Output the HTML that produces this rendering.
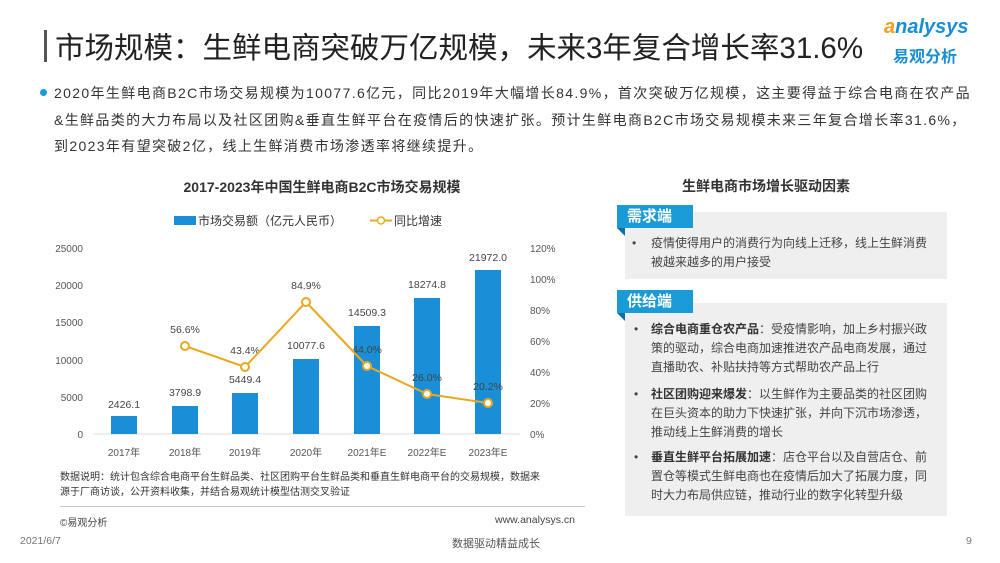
<!DOCTYPE html>
<html><head><meta charset="utf-8"><style>
*{margin:0;padding:0;box-sizing:border-box}
body{width:1000px;height:563px;background:#fff;font-family:"Liberation Sans","Noto Sans CJK SC",sans-serif;position:relative;overflow:hidden;color:#333}
.a{position:absolute;white-space:nowrap}
.box{position:absolute;background:#efefef}
.tab{position:absolute;background:#1a9ad6;color:#fff;font-weight:bold;font-size:15px;padding-left:10px;line-height:23px}
.tri{position:absolute;width:0;height:0;border-top:8px solid #0e6fa3;border-left:8px solid transparent}
.t{position:absolute;font-size:12px;line-height:19px;color:#444}
</style></head><body>
<div class="a" style="left:44px;top:30px;width:3px;height:32px;background:#555"></div>
<div class="a" style="left:55px;top:25px;font-size:29.5px;color:#222">市场规模：生鲜电商突破万亿规模，未来3年复合增长率31.6%</div>
<div class="a" style="left:884px;top:16px;font-size:20px;font-style:italic;color:#1a8fd0;font-weight:bold"><span style="color:#f0a020">a</span>nalysys</div>
<div class="a" style="left:893px;top:43px;font-size:16px;color:#1a8fd0;font-weight:bold">易观分析</div>
<div class="a" style="left:40px;top:89px;width:7px;height:7px;border-radius:50%;background:#1a9ad6"></div>
<div class="a" style="left:54px;top:80px;font-size:14px;line-height:26.5px;color:#333;letter-spacing:1.35px">2020年生鲜电商B2C市场交易规模为10077.6亿元，同比2019年大幅增长84.9%，首次突破万亿规模，这主要得益于综合电商在农产品<br>&amp;生鲜品类的大力布局以及社区团购&amp;垂直生鲜平台在疫情后的快速扩张。预计生鲜电商B2C市场交易规模未来三年复合增长率31.6%，<br>到2023年有望突破2亿，线上生鲜消费市场渗透率将继续提升。</div>

<svg class="a" style="left:0;top:0" width="600" height="470" font-family="Liberation Sans, Noto Sans CJK SC, sans-serif">
<text x="322" y="192" text-anchor="middle" font-size="14" font-weight="bold" fill="#333">2017-2023年中国生鲜电商B2C市场交易规模</text>
<rect x="174" y="216" width="22" height="9" fill="#1a8fd8"/>
<text x="198" y="225" font-size="12" fill="#333">市场交易额（亿元人民币）</text>
<line x1="370" y1="220.5" x2="392" y2="220.5" stroke="#e8a820" stroke-width="2"/>
<circle cx="381" cy="220.5" r="3.5" fill="#fff" stroke="#e8a820" stroke-width="1.5"/>
<text x="394" y="225" font-size="12" fill="#333">同比增速</text>
<g font-size="10" fill="#555" text-anchor="end">
<text x="83" y="252">25000</text><text x="83" y="289">20000</text><text x="83" y="326">15000</text><text x="83" y="364">10000</text><text x="83" y="401">5000</text><text x="83" y="438">0</text>
</g>
<g font-size="10" fill="#555">
<text x="530" y="252">120%</text><text x="530" y="283">100%</text><text x="530" y="314">80%</text><text x="530" y="345">60%</text><text x="530" y="376">40%</text><text x="530" y="407">20%</text><text x="530" y="438">0%</text>
</g>
<line x1="93" y1="434" x2="520" y2="434" stroke="#ddd"/>
<g fill="#1a8fd8">
<rect x="111" y="416" width="26" height="18"/>
<rect x="172" y="406" width="26" height="28"/>
<rect x="232" y="393" width="26" height="41"/>
<rect x="293" y="359" width="26" height="75"/>
<rect x="354" y="326" width="26" height="108"/>
<rect x="414" y="298" width="26" height="136"/>
<rect x="475" y="270" width="26" height="164"/>
</g>
<g font-size="10.5" fill="#444" text-anchor="middle">
<text x="124" y="408">2426.1</text><text x="185" y="396">3798.9</text><text x="245" y="383">5449.4</text><text x="306" y="349">10077.6</text><text x="367" y="316">14509.3</text><text x="427" y="288">18274.8</text><text x="488" y="261">21972.0</text>
<text x="185" y="333">56.6%</text><text x="245" y="354">43.4%</text><text x="306" y="289">84.9%</text><text x="367" y="353">44.0%</text><text x="427" y="381">26.0%</text><text x="488" y="390">20.2%</text>
</g>
<polyline points="185,346 245,367 306,302 367,366 427,394 488,403" fill="none" stroke="#e8a820" stroke-width="2"/>
<g fill="#fff" stroke="#e8a820" stroke-width="2">
<circle cx="185" cy="346" r="4"/><circle cx="245" cy="367" r="4"/><circle cx="306" cy="302" r="4"/><circle cx="367" cy="366" r="4"/><circle cx="427" cy="394" r="4"/><circle cx="488" cy="403" r="4"/>
</g>
<g font-size="10" fill="#555" text-anchor="middle">
<text x="124" y="456">2017年</text><text x="185" y="456">2018年</text><text x="245" y="456">2019年</text><text x="306" y="456">2020年</text><text x="367" y="456">2021年E</text><text x="427" y="456">2022年E</text><text x="488" y="456">2023年E</text>
</g>
</svg>
<div class="a" style="left:60px;top:470px;font-size:10px;line-height:15px;color:#333">数据说明：统计包含综合电商平台生鲜品类、社区团购平台生鲜品类和垂直生鲜电商平台的交易规模，数据来<br>源于厂商访谈，公开资料收集，并结合易观统计模型估测交叉验证</div>
<div class="a" style="left:60px;top:506px;width:525px;height:1px;background:#ccc"></div>
<div class="a" style="left:60px;top:514px;font-size:10px;color:#444">©易观分析</div>
<div class="a" style="left:495px;top:514px;font-size:10.5px;color:#444">www.analysys.cn</div>
<div class="a" style="left:20px;top:535px;font-size:10.5px;color:#777">2021/6/7</div>
<div class="a" style="left:452px;top:535px;font-size:11px;color:#555">数据驱动精益成长</div>
<div class="a" style="left:966px;top:535px;font-size:10.5px;color:#777">9</div>

<div class="a" style="left:682px;top:176px;font-size:14px;font-weight:bold;color:#333">生鲜电商市场增长驱动因素</div>
<div class="box" style="left:625px;top:212px;width:322px;height:67px"></div>
<div class="tab" style="left:617px;top:205px;width:76px">需求端</div>
<div class="tri" style="left:617px;top:228px"></div>
<div class="t" style="left:632px;top:234px">•</div>
<div class="t" style="left:651px;top:234px;width:285px;white-space:normal">疫情使得用户的消费行为向线上迁移，线上生鲜消费被越来越多的用户接受</div>
<div class="box" style="left:625px;top:303px;width:322px;height:213px"></div>
<div class="tab" style="left:617px;top:290px;width:76px">供给端</div>
<div class="tri" style="left:617px;top:313px"></div>
<div class="t" style="left:634px;top:320px">•</div>
<div class="t" style="left:651px;top:320px;width:285px;white-space:normal"><b style="color:#333">综合电商重仓农产品</b>：受疫情影响，加上乡村振兴政策的驱动，综合电商加速推进农产品电商发展，通过直播助农、补贴扶持等方式帮助农产品上行</div>
<div class="t" style="left:634px;top:385px">•</div>
<div class="t" style="left:651px;top:385px;width:285px;white-space:normal"><b style="color:#333">社区团购迎来爆发</b>：以生鲜作为主要品类的社区团购在巨头资本的助力下快速扩张，并向下沉市场渗透，推动线上生鲜消费的增长</div>
<div class="t" style="left:634px;top:448px">•</div>
<div class="t" style="left:651px;top:448px;width:285px;white-space:normal"><b style="color:#333">垂直生鲜平台拓展加速</b>：店仓平台以及自营店仓、前置仓等模式生鲜电商也在疫情后加大了拓展力度，同时大力布局供应链，推动行业的数字化转型升级</div>
</body></html>
